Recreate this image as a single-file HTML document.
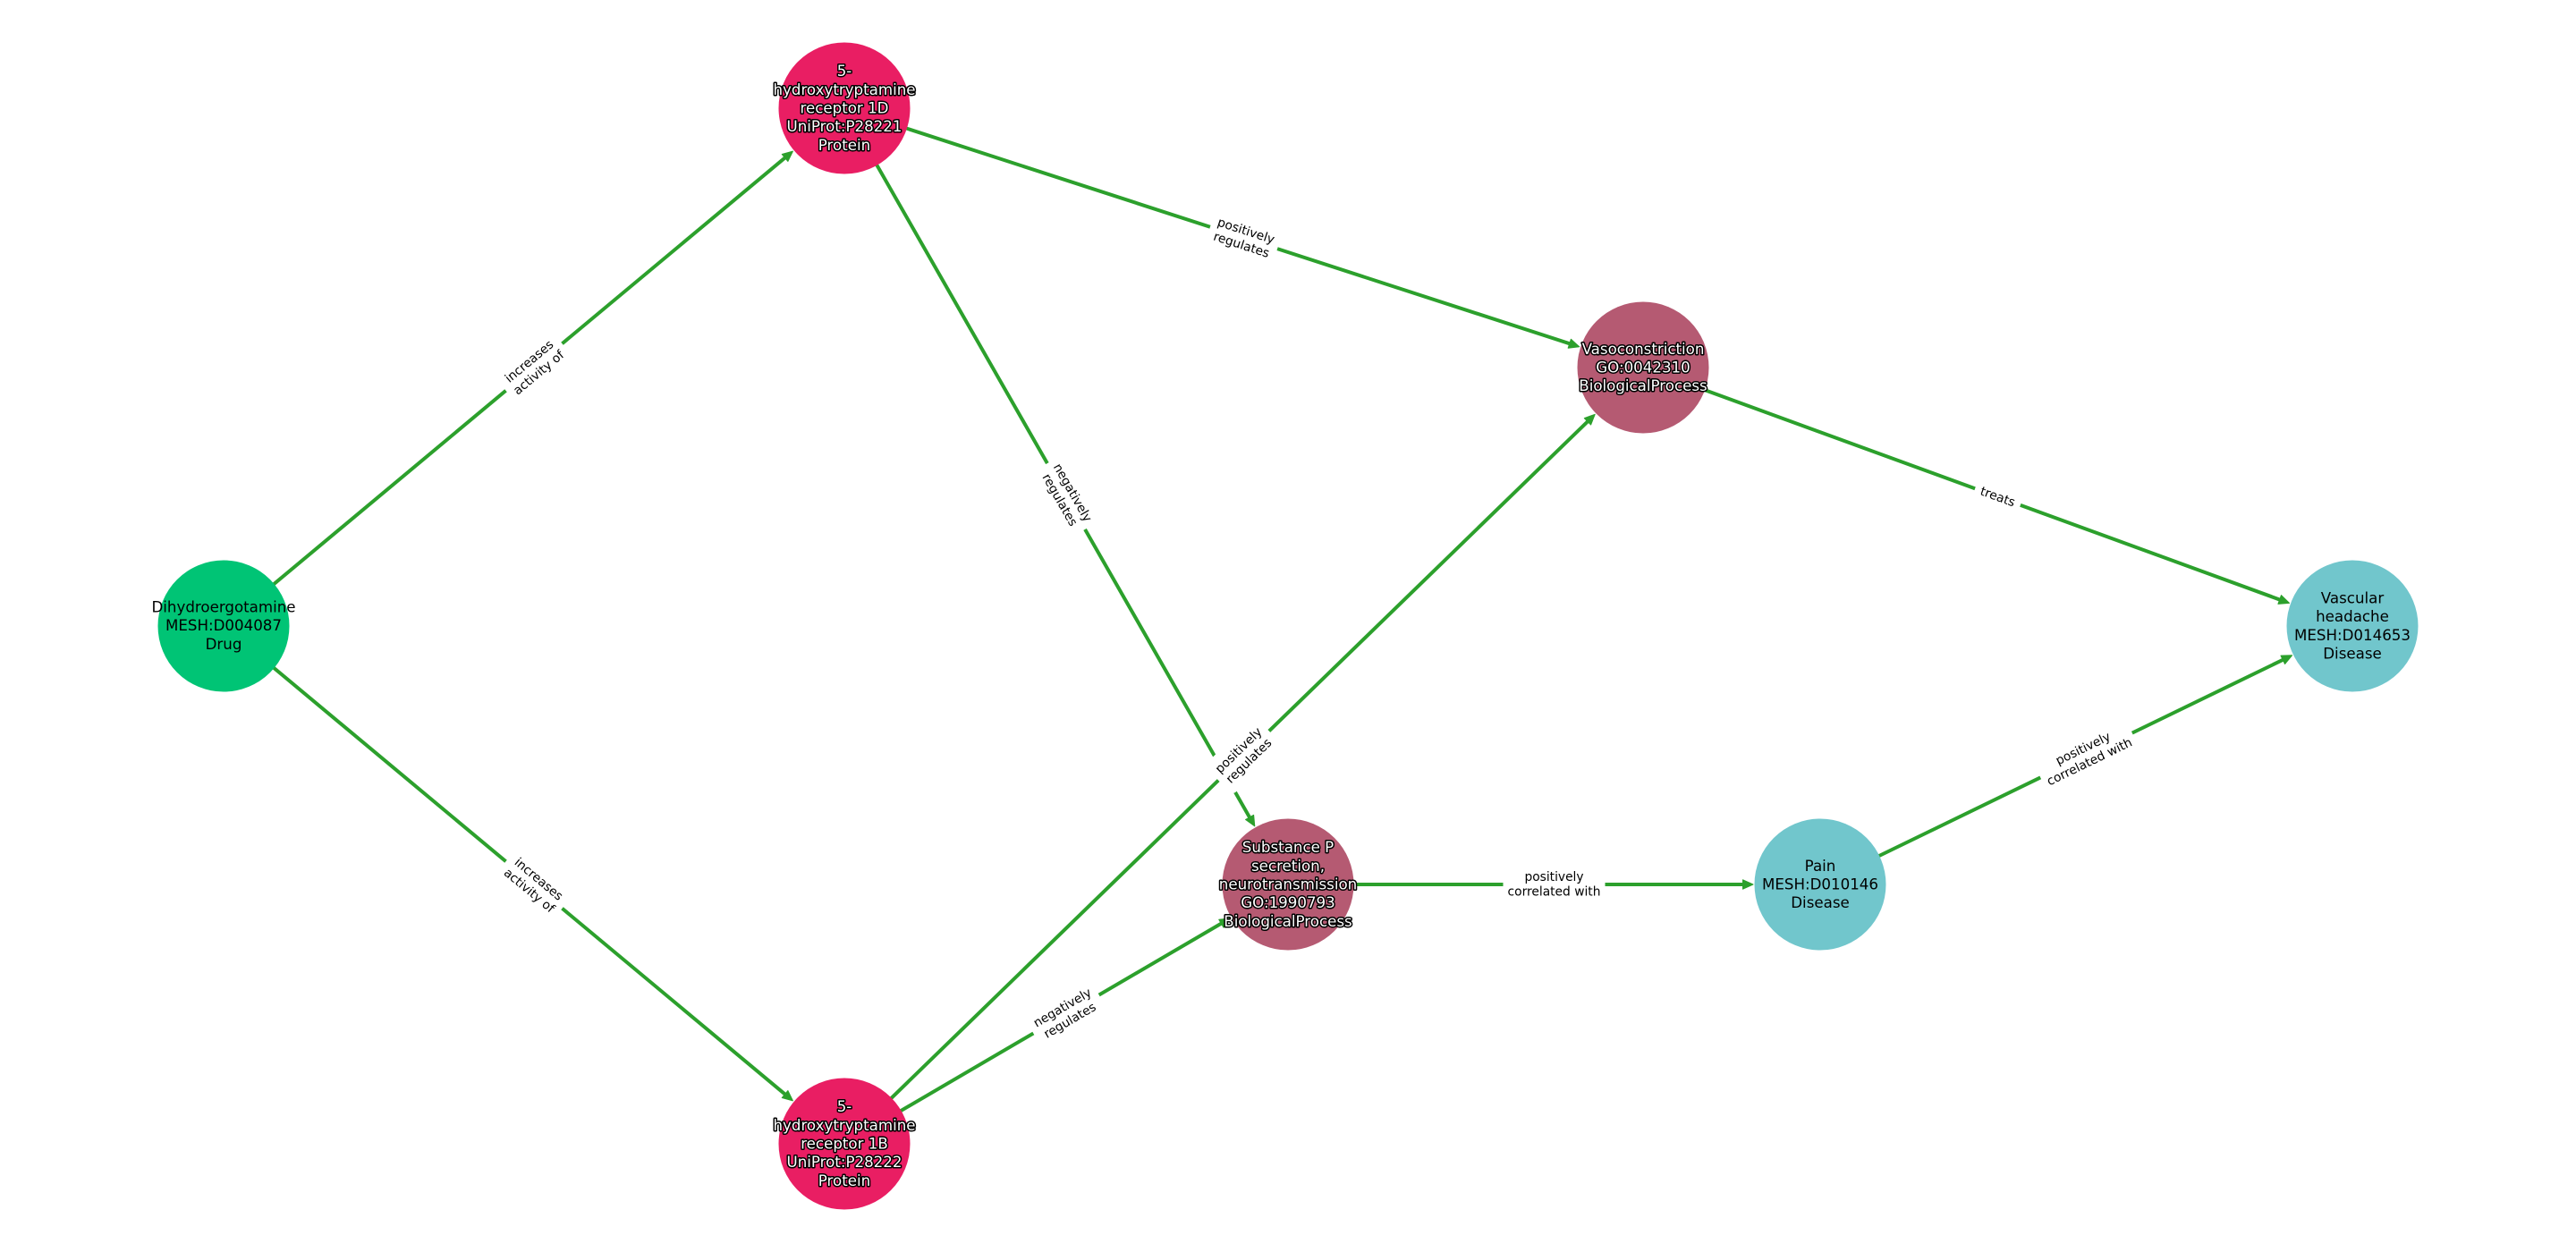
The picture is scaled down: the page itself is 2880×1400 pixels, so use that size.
<!DOCTYPE html>
<html><head><meta charset="utf-8"><style>
html,body{margin:0;padding:0;background:#fff;width:2880px;height:1400px;overflow:hidden}
svg{display:block}
text{font-family:"DejaVu Sans","Liberation Sans",sans-serif;text-anchor:middle}
.n{font-size:16.67px;fill:#000}
.h{font-size:16.67px;fill:#fff;stroke:#000;stroke-width:3px;paint-order:stroke;stroke-linejoin:round}
.e{font-size:13.8px;fill:#000}
line{stroke:#2ca02c;stroke-width:4}
.a{fill:#2ca02c;stroke:#2ca02c;stroke-width:1;stroke-linejoin:round}
</style></head><body>
<svg width="2880" height="1400" viewBox="0 0 2880 1400" xmlns="http://www.w3.org/2000/svg">
<rect width="2880" height="1400" fill="#fff"/>
<line x1="250" y1="700" x2="880.3" y2="174.2"/>
<line x1="250" y1="700" x2="880.3" y2="1225.8"/>
<line x1="944" y1="121" x2="1758.1" y2="385.3"/>
<line x1="944" y1="121" x2="1398.8" y2="917"/>
<line x1="944" y1="1279" x2="1777.5" y2="468.9"/>
<line x1="944" y1="1279" x2="1368.4" y2="1030.9"/>
<line x1="1440" y1="989" x2="1952" y2="989"/>
<line x1="2035" y1="989" x2="2555.4" y2="736.3"/>
<line x1="1837" y1="411" x2="2552" y2="671.7"/>

<g transform="translate(886.4 169.1) rotate(-39.8)"><path class="a" d="M0 0L-11.5 -5.2L-11.5 5.2Z"/></g>
<g transform="translate(886.4 1230.9) rotate(39.8)"><path class="a" d="M0 0L-11.5 -5.2L-11.5 5.2Z"/></g>
<g transform="translate(1765.7 387.8) rotate(18)"><path class="a" d="M0 0L-11.5 -5.2L-11.5 5.2Z"/></g>
<g transform="translate(1402.8 923.9) rotate(60.3)"><path class="a" d="M0 0L-11.5 -5.2L-11.5 5.2Z"/></g>
<g transform="translate(1783.2 463.3) rotate(-44.2)"><path class="a" d="M0 0L-11.5 -5.2L-11.5 5.2Z"/></g>
<g transform="translate(1375.3 1026.9) rotate(-30.3)"><path class="a" d="M0 0L-11.5 -5.2L-11.5 5.2Z"/></g>
<g transform="translate(1960 989)"><path class="a" d="M0 0L-11.5 -5.2L-11.5 5.2Z"/></g>
<g transform="translate(2562.6 732.8) rotate(-25.9)"><path class="a" d="M0 0L-11.5 -5.2L-11.5 5.2Z"/></g>
<g transform="translate(2559.5 674.4) rotate(20)"><path class="a" d="M0 0L-11.5 -5.2L-11.5 5.2Z"/></g>

<g transform="translate(597 410.5) rotate(-39.8)"><rect x="-41" y="-23" width="82" height="46" rx="5" fill="#fff"/><text class="e" y="-3.8">increases</text><text class="e" y="12.7">activity of</text></g>
<g transform="translate(597 989.5) rotate(39.8)"><rect x="-41" y="-23" width="82" height="46" rx="5" fill="#fff"/><text class="e" y="-3.8">increases</text><text class="e" y="12.7">activity of</text></g>
<g transform="translate(1390.5 266) rotate(18)"><rect x="-39.5" y="-23" width="79" height="46" rx="5" fill="#fff"/><text class="e" y="-3.8">positively</text><text class="e" y="12.7">regulates</text></g>
<g transform="translate(1192 555) rotate(60.3)"><rect x="-42.5" y="-23" width="85" height="46" rx="5" fill="#fff"/><text class="e" y="-3.8">negatively</text><text class="e" y="12.7">regulates</text></g>
<g transform="translate(1390.5 845) rotate(-44.2)"><rect x="-39.5" y="-23" width="79" height="46" rx="5" fill="#fff"/><text class="e" y="-3.8">positively</text><text class="e" y="12.7">regulates</text></g>
<g transform="translate(1192 1134) rotate(-30.3)"><rect x="-42.5" y="-23" width="85" height="46" rx="5" fill="#fff"/><text class="e" y="-3.8">negatively</text><text class="e" y="12.7">regulates</text></g>
<g transform="translate(1737.5 989)"><rect x="-57" y="-23" width="114" height="46" rx="5" fill="#fff"/><text class="e" y="-3.8">positively</text><text class="e" y="12.7">correlated with</text></g>
<g transform="translate(2332.5 844.5) rotate(-25.9)"><rect x="-57" y="-23" width="114" height="46" rx="5" fill="#fff"/><text class="e" y="-3.8">positively</text><text class="e" y="12.7">correlated with</text></g>
<g transform="translate(2233.5 555.5) rotate(20)"><rect x="-27" y="-15" width="54" height="30" rx="5" fill="#fff"/><text class="e" y="4.5">treats</text></g>

<circle cx="250" cy="700" r="73.5" fill="#00c475"/>
<circle cx="944" cy="121" r="73.5" fill="#e91e63"/>
<circle cx="944" cy="1279" r="73.5" fill="#e91e63"/>
<circle cx="1837" cy="411" r="73.5" fill="#b55a72"/>
<circle cx="1440" cy="989" r="73.5" fill="#b55a72"/>
<circle cx="2035" cy="989" r="73.5" fill="#71c6cc"/>
<circle cx="2630" cy="700" r="73.5" fill="#71c6cc"/>

<text class="n" x="250" y="684.4">Dihydroergotamine</text>
<text class="n" x="250" y="705.2">MESH:D004087</text>
<text class="n" x="250" y="726.2">Drug</text>

<text class="h" x="944" y="85.1">5-</text>
<text class="h" x="944" y="105.8">hydroxytryptamine</text>
<text class="h" x="944" y="126.5">receptor 1D</text>
<text class="h" x="944" y="147.2">UniProt:P28221</text>
<text class="h" x="944" y="167.9">Protein</text>

<text class="h" x="944" y="1243.1">5-</text>
<text class="h" x="944" y="1263.8">hydroxytryptamine</text>
<text class="h" x="944" y="1284.5">receptor 1B</text>
<text class="h" x="944" y="1305.2">UniProt:P28222</text>
<text class="h" x="944" y="1325.9">Protein</text>

<text class="h" x="1837" y="395.8">Vasoconstriction</text>
<text class="h" x="1837" y="416.5">GO:0042310</text>
<text class="h" x="1837" y="437.2">BiologicalProcess</text>

<text class="h" x="1440" y="953.1">Substance P</text>
<text class="h" x="1440" y="973.8">secretion,</text>
<text class="h" x="1440" y="994.5">neurotransmission</text>
<text class="h" x="1440" y="1015.2">GO:1990793</text>
<text class="h" x="1440" y="1035.9">BiologicalProcess</text>

<text class="n" x="2035" y="973.8">Pain</text>
<text class="n" x="2035" y="994.5">MESH:D010146</text>
<text class="n" x="2035" y="1015.2">Disease</text>

<text class="n" x="2630" y="674.5">Vascular</text>
<text class="n" x="2630" y="695.2">headache</text>
<text class="n" x="2630" y="715.9">MESH:D014653</text>
<text class="n" x="2630" y="736.6">Disease</text>
</svg>
</body></html>
